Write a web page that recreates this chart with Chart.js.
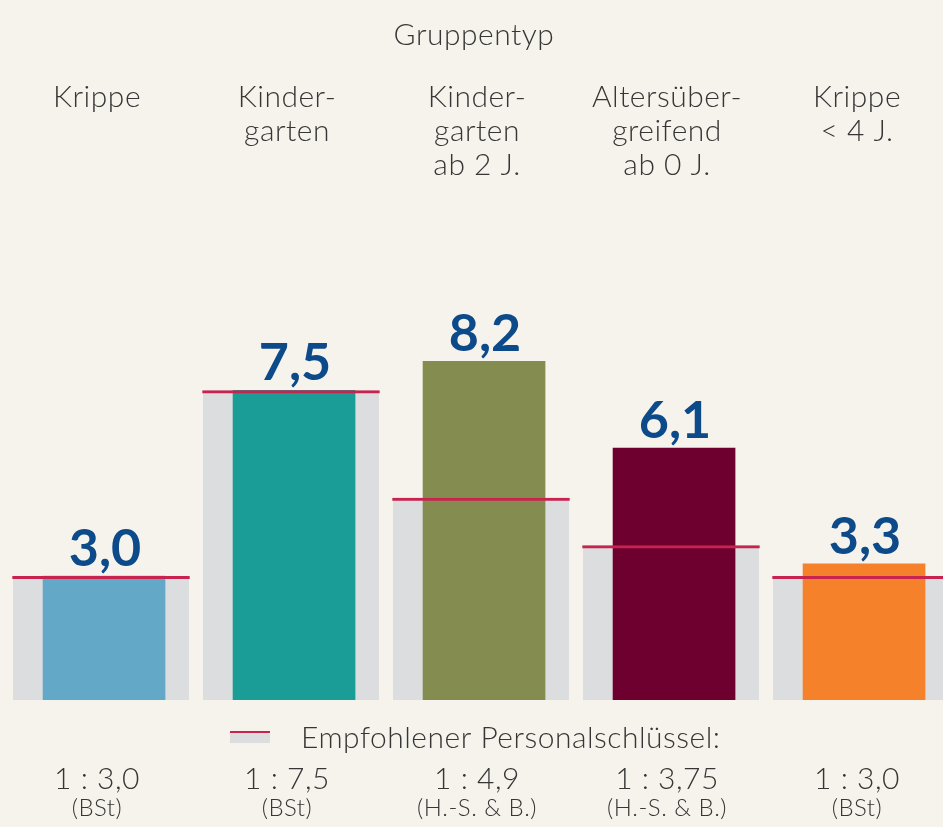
<!DOCTYPE html>
<html>
<head>
<meta charset="utf-8">
<script src="https://cdn.jsdelivr.net/npm/chart.js@4"></script>
<style>
  html, body { margin: 0; padding: 0; background: #f6f3ec; overflow: hidden; }
  #wrap { width: 960px; height: 827px; }
</style>
</head>
<body>
<div id="wrap"><canvas id="c" width="960" height="827"></canvas></div>
<script>
// ---- data ----
const categories = ["Krippe", "Kindergarten", "Kindergarten ab 2 J.", "Altersübergreifend ab 0 J.", "Krippe < 4 J."];
const categoryLines = [["Krippe"], ["Kinder-", "garten"], ["Kinder-", "garten", "ab 2 J."], ["Altersüber-", "greifend", "ab 0 J."], ["Krippe", "< 4 J."]];
const actualValues = [3.0, 7.5, 8.2, 6.1, 3.3];
const recommendedValues = [3.0, 7.5, 4.9, 3.75, 3.0];
const ratioLabels = ["1 : 3,0", "1 : 7,5", "1 : 4,9", "1 : 3,75", "1 : 3,0"];
const sourceLabels = ["(BSt)", "(BSt)", "(H.-S. & B.)", "(H.-S. & B.)", "(BSt)"];
const barColors = ["#64a8c7", "#1a9c97", "#858c4f", "#6e0030", "#f5822a"];
const axisTitle = "Gruppentyp";
const legendLabel = "Empfohlener Personalschlüssel:";

const TEXT = "#363636";
const FAM = "'Lato Light', Lato, sans-serif";

const textPlugin = {
  id: "texts",
  afterDatasetsDraw(chart) {
    const ctx = chart.ctx;
    const x = chart.scales.x;
    ctx.save();
    // value labels
    ctx.fillStyle = "#0c4a8a";
    ctx.font = "bold 52px Lato, sans-serif";
    ctx.textAlign = "center";
    ctx.textBaseline = "alphabetic";
    const meta = chart.getDatasetMeta(1);
    meta.data.forEach((bar, i) => {
      ctx.fillText(actualValues[i].toFixed(1).replace(".", ","), bar.x + 1, bar.y - 10);
    });
    // title
    ctx.fillStyle = TEXT;
    ctx.letterSpacing = "0.5px";
    ctx.font = "300 30px " + FAM;
    ctx.fillText(axisTitle, 474, 45);
    // category labels at top
    categoryLines.forEach((lines, i) => {
      const cx = x.getPixelForValue(i) - 4;
      lines.forEach((t, j) => ctx.fillText(t, cx, 107 + j * 34));
    });
    // legend
    ctx.fillStyle = "#dcdddf";
    ctx.fillRect(230, 733, 40, 10);
    ctx.fillStyle = "#c8234f";
    ctx.fillRect(230, 731, 40, 2);
    ctx.fillStyle = TEXT;
    ctx.textAlign = "left";
    ctx.fillText(legendLabel, 301, 748);
    // ratios
    ctx.textAlign = "center";
    ratioLabels.forEach((t, i) => {
      const cx = x.getPixelForValue(i) - 4;
      ctx.font = "300 30px " + FAM;
      ctx.fillText(t, cx, 789);
      ctx.font = "300 24px " + FAM;
      ctx.fillText(sourceLabels[i], cx, 816);
    });
    ctx.restore();
  }
};

function build() {
  new Chart(document.getElementById("c"), {
    type: "bar",
    data: {
      labels: categories,
      datasets: [
        {
          label: "Empfohlen (Linie)",
          data: recommendedValues,
          backgroundColor: "rgba(0,0,0,0)",
          borderColor: "#c8234f",
          borderWidth: { top: 3, left: 0, right: 0, bottom: 0 },
          borderSkipped: false,
          barPercentage: 0.935,
          categoryPercentage: 1,
          grouped: false,
          order: 0
        },
        {
          label: "Ist",
          data: actualValues.map((v, i) => ({ x: i, y: v })),
          xAxisID: "x2",
          backgroundColor: barColors,
          borderWidth: 0,
          barThickness: 122,
          grouped: false,
          order: 1
        },
        {
          label: "Empfohlen",
          data: recommendedValues,
          backgroundColor: "#dcdddf",
          borderWidth: 0,
          barPercentage: 0.926,
          categoryPercentage: 1,
          grouped: false,
          order: 2
        }
      ]
    },
    options: {
      responsive: false,
      animation: false,
      layout: { padding: { left: 6, right: 4, top: 287, bottom: 127 } },
      plugins: { legend: { display: false }, tooltip: { enabled: false } },
      scales: {
        x: { display: false, offset: true, grid: { display: false } },
        x2: { type: "linear", display: false, min: -0.516, max: 4.484, offset: false, grid: { display: false } },
        y: { display: false, min: 0, max: 10, grid: { display: false } }
      }
    },
    plugins: [textPlugin]
  });
}

Promise.all([
  document.fonts.load("300 30px 'Lato Light'"),
  document.fonts.load("300 30px Lato"),
  document.fonts.load("bold 52px Lato")
]).then(build, build);
</script>
</body>
</html>
